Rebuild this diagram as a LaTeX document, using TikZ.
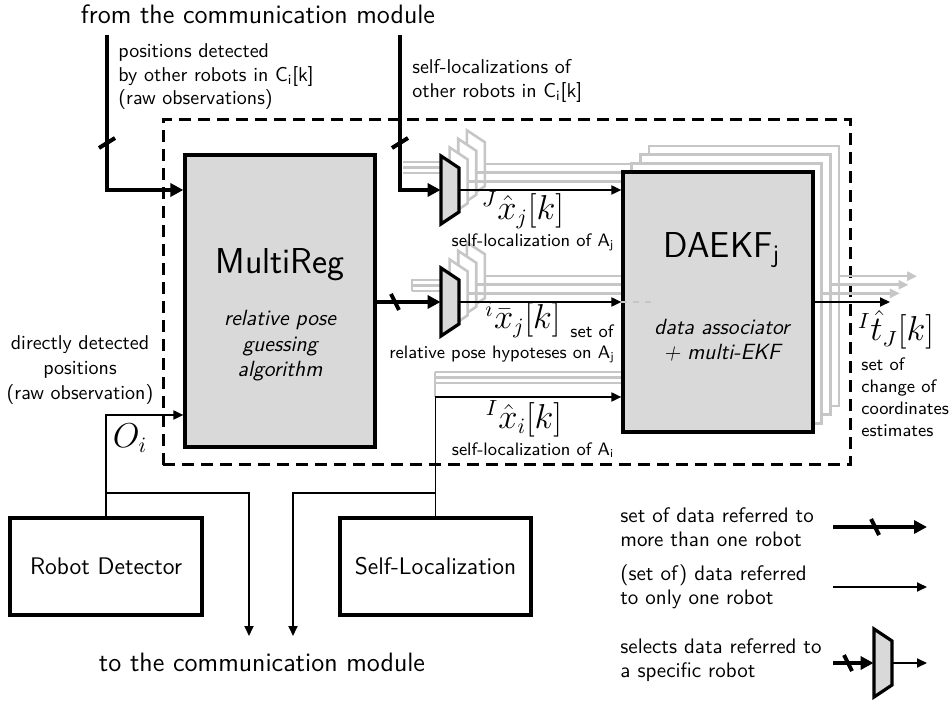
\documentclass[tikz,border=0pt]{standalone}
\usetikzlibrary{arrows.meta,calc}
\definecolor{boxgray}{HTML}{D9D9D9}
\definecolor{ghost}{HTML}{C6C6C6}
\tikzset{
  thickline/.style={line width=2pt},
  thickarrow/.style={line width=2pt,-{Triangle[length=6.5pt,width=6.5pt]}},
  thinarrow/.style={line width=0.9pt,-{Triangle[length=5pt,width=4.5pt]}},
  ghostline/.style={draw=ghost,line width=1.3pt},
  ghostarrow/.style={ghostline,-{Triangle[length=5pt,width=4.5pt]}},
  blockbox/.style={draw,line width=1.6pt,fill=boxgray,inner sep=0pt},
  plainbox/.style={draw,line width=1.6pt,fill=white,inner sep=0pt,font=\sffamily\fontsize{12}{14}\selectfont},
  ghostbox/.style={draw=ghost,line width=1.3pt,fill=white,inner sep=0pt,minimum width=95pt,minimum height=130pt},
  muxnode/.style={inner sep=0pt,minimum width=9pt,minimum height=34pt},
  pics/muxshape/.style={code={\draw[#1] (-9,-34) -- (9,-22) -- (9,22) -- (-9,34) -- cycle;}},
  lbl/.style={font=\sffamily\fontsize{10}{11.75}\selectfont,inner sep=0pt},
  smalllbl/.style={font=\sffamily\fontsize{9}{11}\selectfont,inner sep=0pt},
  biglbl/.style={font=\sffamily\fontsize{13.3}{16}\selectfont,inner sep=0pt},
  titlelbl/.style={font=\sffamily\fontsize{18}{21}\selectfont,inner sep=0pt},
  itlbl/.style={font=\sffamily\itshape\fontsize{11}{12.75}\selectfont,inner sep=0pt,align=center},
  mathlbl/.style={font=\fontsize{16}{18}\selectfont,inner sep=0pt},
  legendlbl/.style={font=\sffamily\fontsize{10.5}{11.75}\selectfont,inner sep=0pt,align=left,anchor=west},
  dashbox/.style={draw,line width=1.5pt,dash pattern=on 6pt off 3.5pt,inner sep=0pt},
}
\newcommand\htick[1]{\draw[thickline] ($(#1)+(-4,-8)$) -- ($(#1)+(4,8)$);}
\newcommand\vtick[1]{\draw[thickline] ($(#1)+(-8,5)$) -- ($(#1)+(8,-5)$);}
\begin{document}
\begin{tikzpicture}[x=0.5pt,y=-0.5pt]
\useasboundingbox (0,0) rectangle (952,704);
% frame
\node[dashbox,minimum width=343.5pt,minimum height=172.5pt] (frame) at (506.5,292.5) {};
% helper coordinates
\coordinate (top1) at (107,35);
\coordinate (top2) at (400,35);
\coordinate (y190) at (0,190);
\coordinate (y397) at (0,397);
\coordinate (y415) at (0,415);
\coordinate (out) at (890,302);
\coordinate (b1) at (107,493);
\coordinate (b2) at (435,493);
\coordinate (d1) at (249,636);
\coordinate (d2) at (293,636);
% ghost layers
\draw[ghostline] (412,279) -- (412,291);
\draw[ghostline] (435,372) -- (435,397);
\foreach \k in {3,2,1}{
  \pgfmathsetmacro{\d}{8.6*\k}
  \pgfmathsetmacro{\e}{5.5*(\k-1)}
  \draw[ghostline] (403,173-\e) -- (441+\d,173-\e);
  \draw[ghostline] (412,291-\e) -- (441+\d,291-\e);
  \draw[ghostline] (435,383-\e) -- (623,383-\e);
  \pic at (450+\d,190-\d) {muxshape={draw=ghost,fill=white,line width=1.3pt}};
  \pic at (450+\d,302-\d) {muxshape={draw=ghost,fill=white,line width=1.3pt}};
  \draw[ghostline] (459+\d,190-\d) -- (623+\d,190-\d);
  \draw[ghostline] (459+\d,302-\d) -- (623+\d,302-\d);
  \node[ghostbox] (g\k) at (718+\d,302-\d) {};
  \draw[ghostarrow] (g\k.east) -- ++(77,0);
}
% main blocks
\node[blockbox,minimum width=95pt,minimum height=146pt] (mr) at (280,301) {};
\node[blockbox,minimum width=95pt,minimum height=130pt] (dk) at (718,302) {};
\draw[ghost,dashed,line width=0.6pt] (dk.west) -- ++(32,0);
\node[plainbox,minimum width=96pt,minimum height=48.5pt] (rd) at (106,566.5) {Robot Detector};
\node[plainbox,minimum width=95.5pt,minimum height=48.5pt] (sl) at (435.5,566.5) {Self-Localization};
% multiplexers
\node[muxnode] (m1) at (450,190) {};
\node[muxnode] (m2) at (450,302) {};
\pic at (m1) {muxshape={draw=black,fill=boxgray,line width=1.6pt}};
\pic at (m2) {muxshape={draw=black,fill=boxgray,line width=1.6pt}};
% connectors
\draw[thickarrow] (top1) |- (mr.west |- y190);
\draw[thickarrow] (top2) |- (m1.west);
\draw[thickarrow] (mr.east |- m2) -- (m2.west);
\draw[thinarrow] (m1.east) -- (dk.west |- m1);
\draw[thinarrow] (m2.east) -- (dk.west |- m2);
\draw[thinarrow] (dk.east |- out) -- (out);
\draw[thinarrow] (sl.north) |- (dk.west |- y397);
\draw[thinarrow] (rd.north) |- (mr.west |- y415);
\draw[thinarrow] (b1) -| (d1);
\draw[thinarrow] (b2) -| (d2);
\coordinate (t1) at (107,143); \vtick{t1}
\coordinate (t2) at (400,143); \vtick{t2}
\coordinate (t3) at (395,302); \htick{t3}
% labels
\node[biglbl] (from) at (258,14) {from the communication module};
\node[biglbl] (to) at (262,662) {to the communication module};
\node[lbl,align=left,anchor=west] (posdet) at (118,77) {positions detected\\by other robots in C\textsubscript{i}[k]\\(raw observations)};
\node[lbl,align=left,anchor=west] (selfother) at (412,81) {self-localizations of\\other robots in C\textsubscript{i}[k]};
\node[titlelbl] (mrname) at (280,265) {MultiReg};
\node[itlbl] (mrdesc) at (280,346) {relative pose\\guessing\\algorithm};
\node[titlelbl] (dkname) at (722,250) {DAEKF\textsubscript{j}};
\node[itlbl] (dkdesc) at (722,340) {data associator\\+ multi-EKF};
\node[mathlbl] (xj) at (523,210) {$^J\hat{x}_j[k]$};
\node[smalllbl] (xjd) at (533,242) {self-localization of A\textsubscript{j}};
\node[mathlbl] (xbar) at (523,320) {$^i\bar{x}_j[k]$};
\node[smalllbl] (setof1) at (592,331) {set of};
\node[smalllbl] (xbard) at (502,354) {relative pose hypoteses on A\textsubscript{j}};
\node[mathlbl] (xi) at (524,419) {$^I\hat{x}_i[k]$};
\node[smalllbl] (xid) at (533,450) {self-localization of A\textsubscript{i}};
\node[mathlbl] (tJ) at (896,330) {$^I\hat{t}_J[k]$};
\node[smalllbl,align=left,anchor=west] (tJd) at (861,397) {set of\\change of\\coordinates\\estimates};
\node[mathlbl] (Oi) at (130,438) {$O_i$};
\node[lbl,align=center,font=\sffamily\fontsize{10}{12.5}\selectfont] (direct) at (80,370) {directly detected\\positions\\(raw observation)};
% legend
\node[legendlbl] (leg1) at (620,527) {set of data referred to\\more than one robot};
\node[legendlbl] (leg2) at (620,587) {(set of) data referred\\to only one robot};
\node[legendlbl] (leg3) at (620,660) {selects data referred to\\a specific robot};
\coordinate (l1a) at (833,527); \coordinate (l1b) at (927,527);
\coordinate (l2a) at (833,587); \coordinate (l2b) at (927,587);
\coordinate (l3a) at (833,663); \coordinate (l3b) at (927,663);
\draw[thickarrow] (l1a) -- (l1b);
\coordinate (t4) at (875,527); \htick{t4}
\draw[thinarrow] (l2a) -- (l2b);
\node[muxnode] (mL) at (883,663) {};
\pic at (mL) {muxshape={draw=black,fill=boxgray,line width=1.6pt}};
\draw[thickarrow] (l3a) -- (mL.west);
\coordinate (t5) at (848,663); \htick{t5}
\draw[thinarrow] (mL.east) -- (l3b);
\end{tikzpicture}
\end{document}
